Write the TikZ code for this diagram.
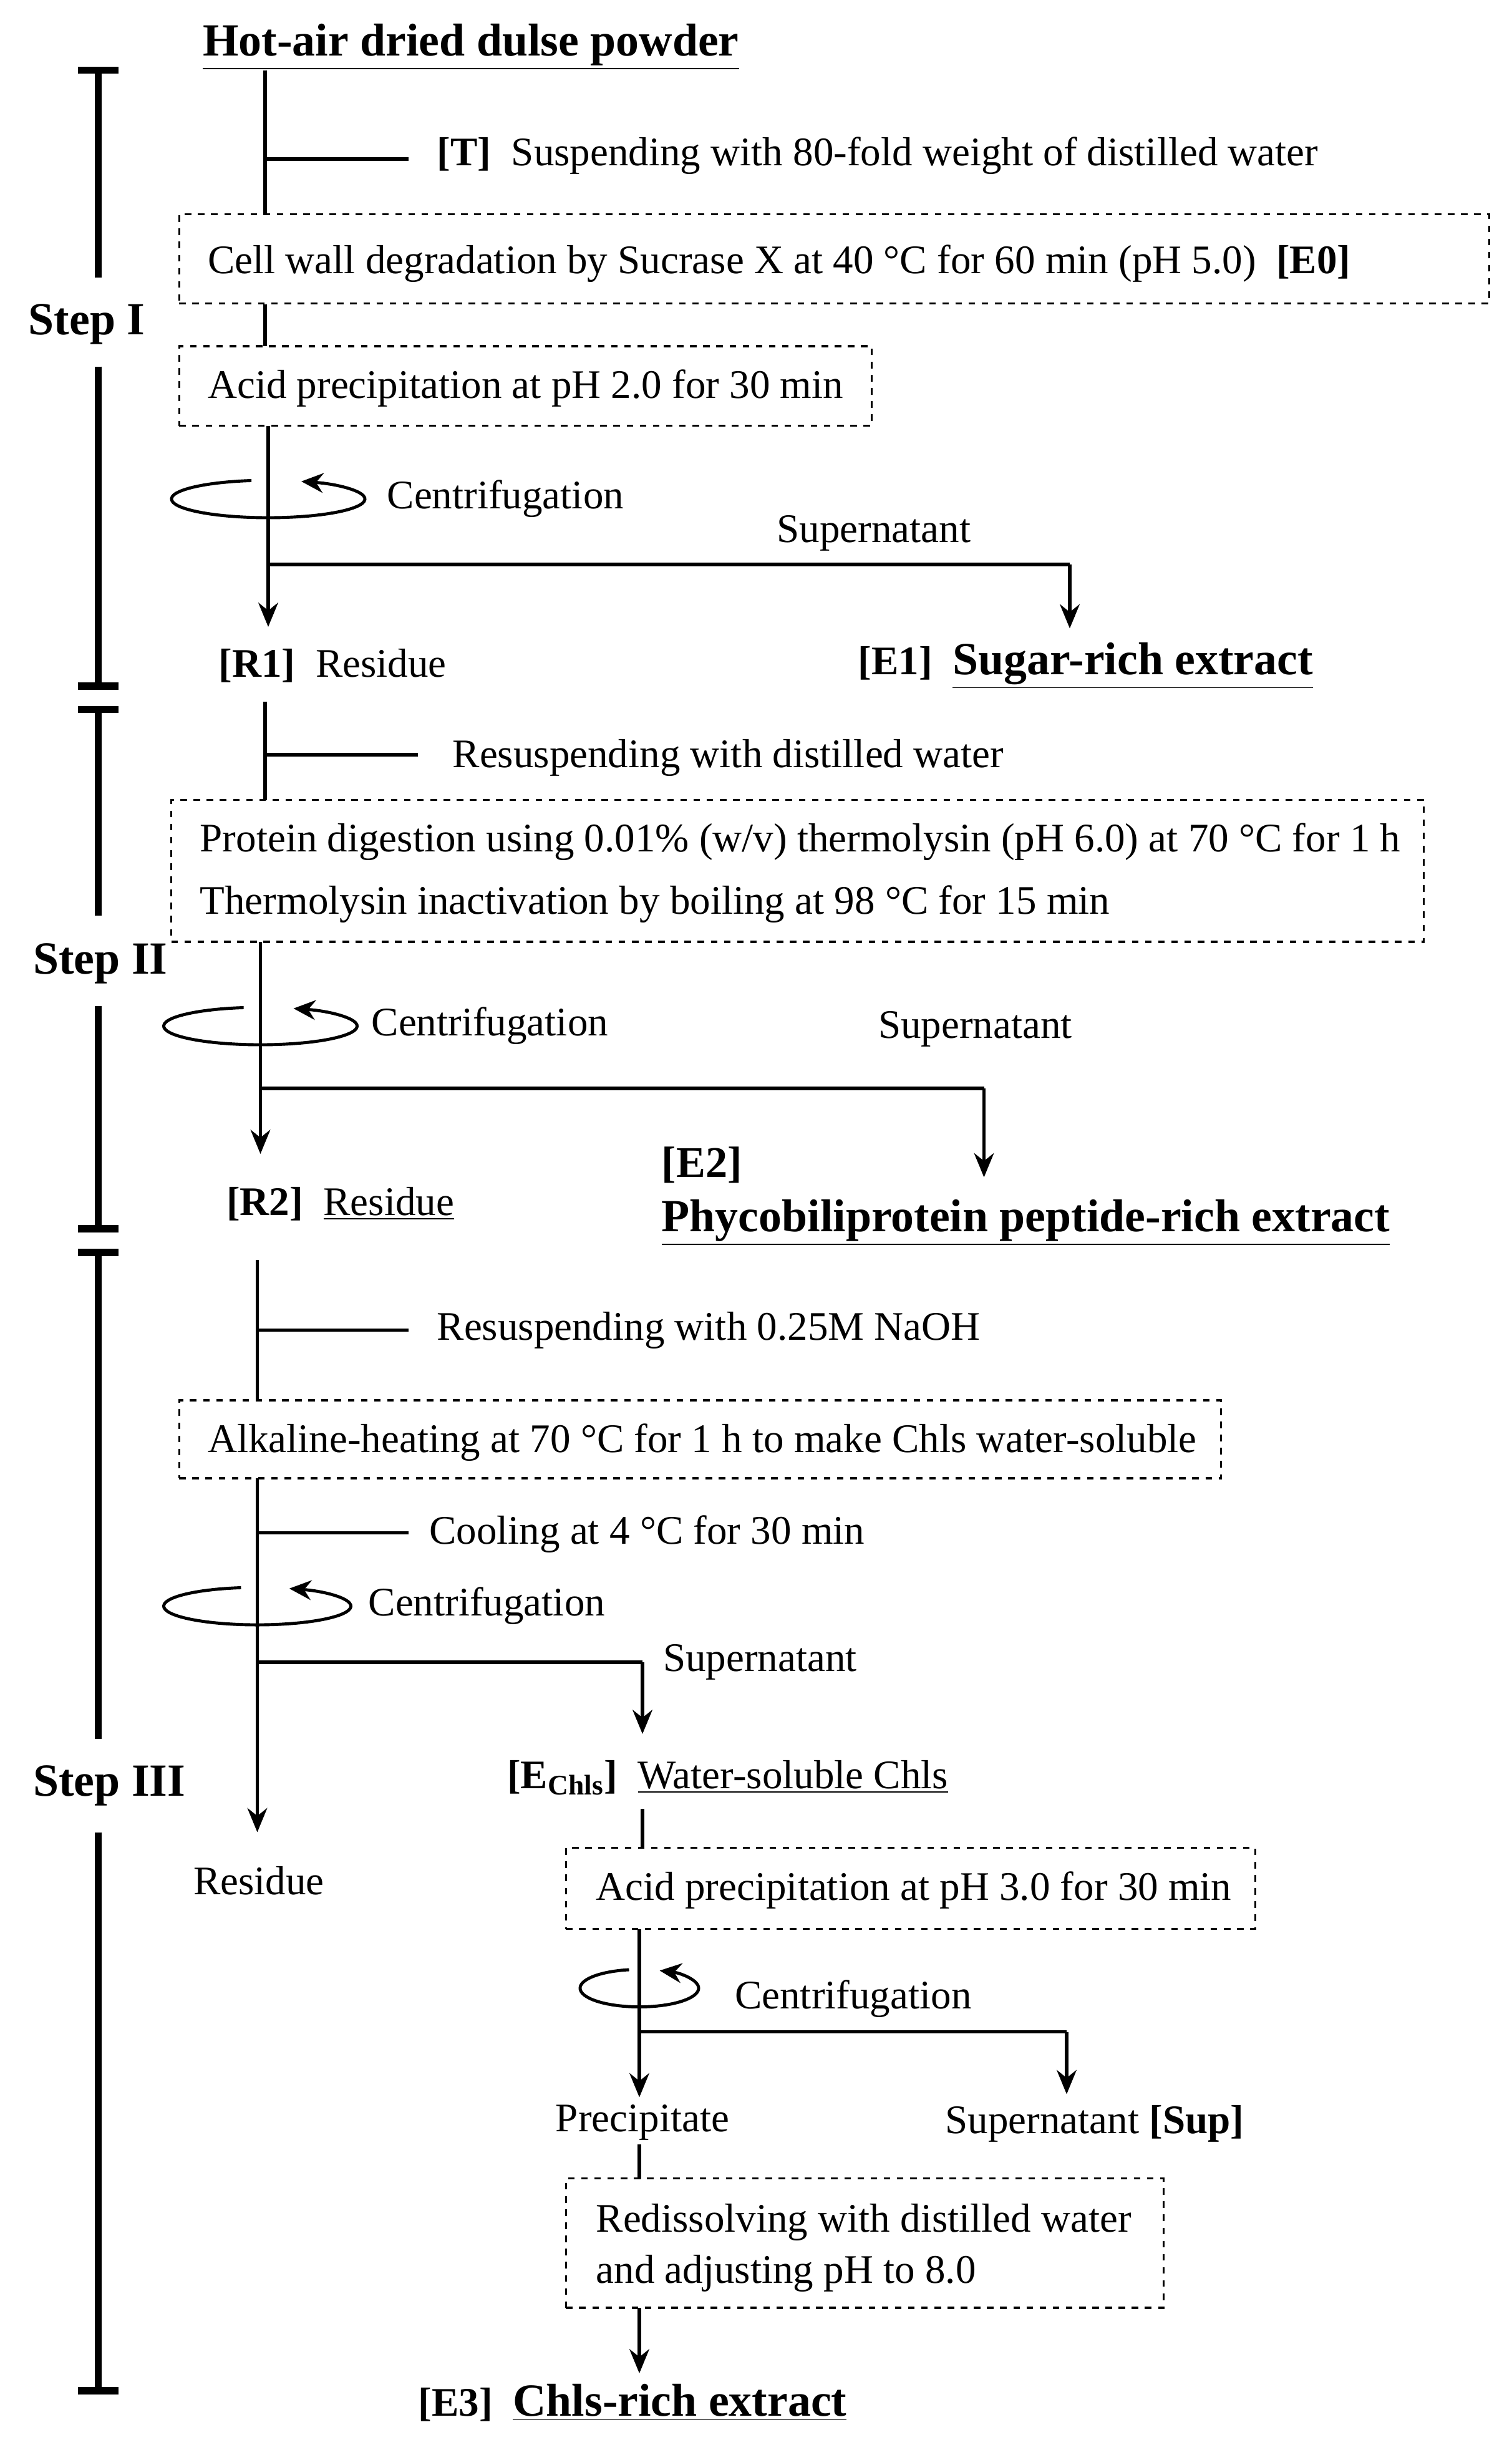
\documentclass[tikz,border=0pt]{standalone}
\usepackage{fontspec}
\setmainfont{Liberation Serif}
\usetikzlibrary{arrows.meta,calc}
\tikzset{
  flow/.style={line width=1.6pt},
  arr/.style={flow,-{Stealth[length=11pt,width=9pt]}},
  box/.style={draw,dashed,line width=0.9pt,inner sep=0pt},
  txt/.style={anchor=west,inner sep=0pt,font=\fontsize{18.5}{22}\selectfont},
  bar/.style={line width=3.4pt},
}
% centrifugation symbol
\newcommand{\spin}[3]{\draw[line width=1.4pt,-{Stealth[length=10pt,width=9pt]}] ($(#1)+(100:#2cm and #3cm)$) arc[start angle=100,end angle=430,x radius=#2cm,y radius=#3cm];}
\newcommand{\bigbf}{\fontsize{21}{25}\selectfont\bfseries}
\begin{document}
\begin{tikzpicture}[x=0.025cm,y=-0.025cm]
\useasboundingbox (0,0) rectangle (969.6,1574.4);
% step bars
\draw[bar] (50,45) -- (76,45) (63,45) -- (63,178) (63,235) -- (63,440) (50,440) -- (76,440);
\draw[bar] (50,455) -- (76,455) (63,455) -- (63,587) (63,645) -- (63,788) (50,788) -- (76,788);
\draw[bar] (50,803) -- (76,803) (63,803) -- (63,1115) (63,1175) -- (63,1533) (50,1533) -- (76,1533);
\node[txt,font=\bigbf] (stepI) at (18,208) {Step I};
\node[txt,font=\bigbf] (stepII) at (21,618) {Step II};
\node[txt,font=\bigbf] (stepIII) at (21,1145) {Step III};
% step I
\node[inner sep=0pt,font=\bigbf] (dulse) at (302,30) {\underline{Hot-air dried dulse powder}};
\node[box,minimum width=21cm,minimum height=1.425cm] (e0) at (535,166) {};
\node[txt] (e0t) at (133,169) {Cell wall degradation by Sucrase X at 40 °C for 60 min (pH 5.0)\enspace\textbf{[E0]}};
\coordinate (t) at (170,102);
\draw[flow] (170,45) -- (170,138);
\draw[flow] (t) -- (262,102);
\node[txt] (tt) at (280,100) {\textbf{[T]}\enspace Suspending with 80-fold weight of distilled water};
\node[box,minimum width=11.1cm,minimum height=1.275cm] (acid1) at (337,247.5) {};
\node[txt] (acid1t) at (133,249) {Acid precipitation at pH 2.0 for 30 min};
\draw[flow] (170,195) -- (170,222);
\coordinate (c1) at (172,320);
\spin{c1}{1.55}{0.3}
\node[txt] (c1t) at (248,320) {Centrifugation};
\coordinate (s1) at (172,362);
\coordinate (s1e) at (686,362);
\draw[arr] (172,273) -- (172,402);
\draw[flow] (s1) -- (s1e);
\draw[arr] (s1e) -- (686,403);
\node[txt] (sup1) at (498,342) {Supernatant};
\node[txt] (r1) at (140,427) {\textbf{[R1]}\enspace Residue};
\node[txt] (e1) at (550,427) {\textbf{[E1]}\enspace{\bigbf\underline{Sugar-rich extract}}};
% step II
\draw[flow] (170,450) -- (170,513);
\draw[flow] (170,484) -- (268,484);
\node[txt] (re2) at (290,486) {Resuspending with distilled water};
\node[box,minimum width=20.075cm,minimum height=2.275cm] (prot) at (511.5,558.5) {};
\node[txt] (prot1) at (128,540) {Protein digestion using 0.01\% (w/v) thermolysin (pH 6.0) at 70 °C for 1 h};
\node[txt] (prot2) at (128,580) {Thermolysin inactivation by boiling at 98 °C for 15 min};
\coordinate (c2) at (167,658);
\spin{c2}{1.55}{0.3}
\node[txt] (c2t) at (238,658) {Centrifugation};
\coordinate (s2e) at (631,698);
\draw[arr] (167,604) -- (167,740);
\draw[flow] (167,698) -- (s2e);
\draw[arr] (s2e) -- (631,755);
\node[txt] (sup2) at (563,660) {Supernatant};
\node[txt] (r2) at (145,772) {\textbf{[R2]}\enspace\underline{Residue}};
\node[txt,font=\fontsize{20}{24}\selectfont\bfseries] (e2) at (424,747) {[E2]};
\node[txt,font=\bigbf] (e2t) at (424,784) {\underline{Phycobiliprotein peptide-rich extract}};
% step III
\draw[flow] (165,808) -- (165,898);
\draw[flow] (165,853) -- (262,853);
\node[txt] (re3) at (280,853) {Resuspending with 0.25M NaOH};
\node[box,minimum width=16.7cm,minimum height=1.25cm] (alk) at (449,923) {};
\node[txt] (alkt) at (133,925) {Alkaline-heating at 70 °C for 1 h to make Chls water-soluble};
\draw[arr] (165,948) -- (165,1175);
\draw[flow] (165,983) -- (262,983);
\node[txt] (cool) at (275,984) {Cooling at 4 °C for 30 min};
\coordinate (c3) at (165,1030);
\spin{c3}{1.5}{0.3}
\node[txt] (c3t) at (236,1030) {Centrifugation};
\coordinate (s3e) at (412,1066);
\draw[flow] (165,1066) -- (s3e);
\draw[arr] (s3e) -- (412,1112);
\node[txt] (sup3) at (425,1066) {Supernatant};
\node[inner sep=0pt,font=\fontsize{18.5}{22}\selectfont] (r3) at (166,1206) {Residue};
\node[txt] (echl) at (325,1140) {\textbf{[E\textsubscript{Chls}]}\enspace\underline{Water-soluble Chls}};
\draw[flow] (412,1160) -- (412,1185);
\node[box,minimum width=11.05cm,minimum height=1.3cm] (acid3) at (584,1211) {};
\node[txt] (acid3t) at (382,1212) {Acid precipitation at pH 3.0 for 30 min};
\coordinate (c4) at (410,1275);
\spin{c4}{0.95}{0.3}
\node[txt] (c4t) at (471,1282) {Centrifugation};
\coordinate (s4e) at (684,1303);
\draw[arr] (410,1237) -- (410,1345);
\draw[flow] (410,1303) -- (s4e);
\draw[arr] (s4e) -- (684,1343);
\node[inner sep=0pt,font=\fontsize{18.5}{22}\selectfont] (prec) at (412,1361) {Precipitate};
\node[txt] (sup4) at (606,1362) {Supernatant \textbf{[Sup]}};
\draw[flow] (410,1375) -- (410,1397);
\node[box,minimum width=9.575cm,minimum height=2.075cm] (redis) at (554.5,1438.5) {};
\node[txt] (redis1) at (382,1425) {Redissolving with distilled water};
\node[txt] (redis2) at (382,1458) {and adjusting pH to 8.0};
\draw[arr] (410,1480) -- (410,1522);
\node[txt] (e3) at (268,1541) {\textbf{[E3]}\enspace{\bigbf\underline{Chls-rich extract}}};
\end{tikzpicture}
\end{document}
